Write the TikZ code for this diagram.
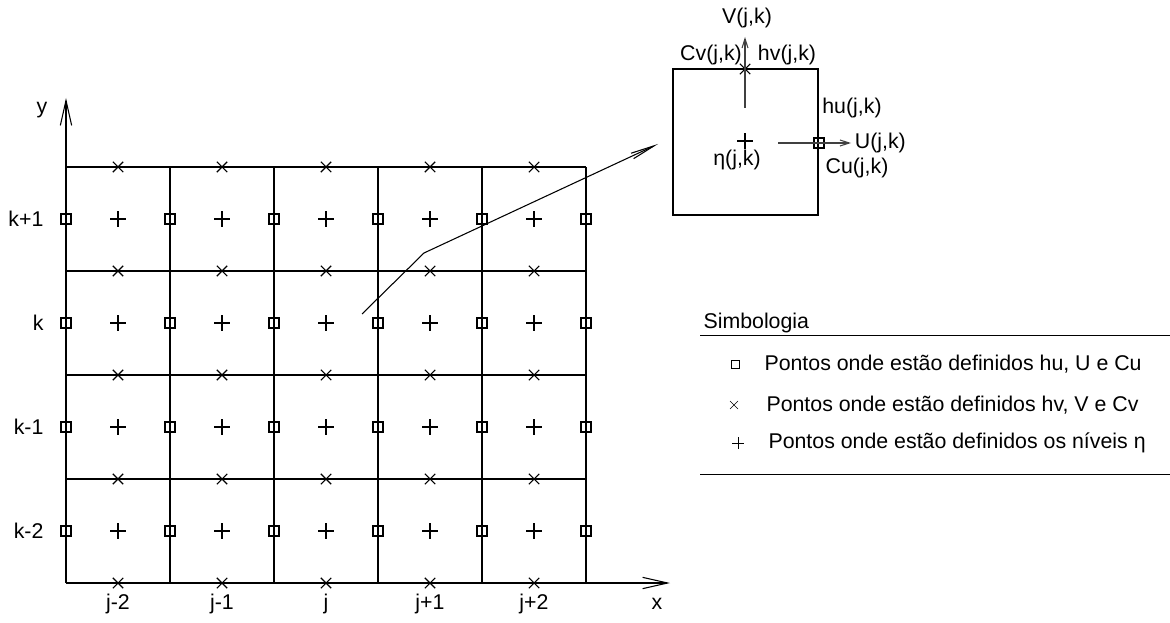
\documentclass[tikz,border=0pt]{standalone}
\usepackage{fontspec}
\setmainfont{Liberation Sans}
\usetikzlibrary{arrows.meta,positioning,shapes.misc}

\begin{document}
\begin{tikzpicture}[x=0.75pt, y=-0.75pt, line width=0.8pt,
        every node/.style={font=\fontsize{16pt}{19pt}\selectfont},
        sqmark/.style={draw, rectangle, minimum size=7.5pt, inner sep=0pt},
        xmark/.style={draw, cross out, minimum size=7pt, inner sep=0pt},
        pmark/.style={draw, cross out, rotate=45, minimum size=7.5pt, inner sep=0pt},
        axis/.style={-{Straight Barb[length=18.75pt, width=8.5pt]}},
        flux/.style={-{Straight Barb[length=7pt, width=4.5pt]}, black!75},
        zoomline/.style={-{Straight Barb[length=18pt, width=4.5pt]}}
    ]
    \useasboundingbox (0,0) rectangle (1170,623);
    % grid of cells
    \foreach \i in {0,...,5}
        \draw (66+104*\i,167) -- (66+104*\i,583);
    \foreach \r in {0,...,4}
        \draw (66,167+104*\r) -- (586,167+104*\r);
    % axes
    \coordinate (origin) at (66,583);
    \coordinate (ytip) at (66,98);
    \coordinate (xtip) at (670,583);
    \draw[axis] (origin) -- (ytip);
    \draw[axis] (origin) -- (xtip);
    \node (ylab) at (42,110) {y};
    \node (xlab) at (657,604) {x};
    % points of the grid
    \foreach \r in {0,...,3} {
        \foreach \i in {0,...,5}
            \node[sqmark] (u\i\r) at (66+104*\i,219+104*\r) {};
        \foreach \c in {0,...,4}
            \node[pmark] (e\c\r) at (118+104*\c,219+104*\r) {};
    }
    \foreach \r in {0,...,4}
        \foreach \c in {0,...,4}
            \node[xmark] (v\c\r) at (118+104*\c,167+104*\r) {};
    % indices
    \foreach \lab [count=\c from 0] in {j-2,j-1,j,j+1,j+2}
        \node (jlab\c) at (118+104*\c,604) {\lab};
    \foreach \lab [count=\r from 0] in {k+1,k,k-1,k-2}
        \node[anchor=east, inner sep=0pt] (klab\r) at (44,219+104*\r) {\lab};
    % zoom on one cell
    \coordinate (zoomstart) at (362,314);
    \coordinate (zoombend) at (424,253);
    \coordinate (zoomend) at (658,144);
    \draw[zoomline] (zoomstart) -- (zoombend) -- (zoomend);
    \node[draw, rectangle, minimum width=108.75pt, minimum height=109.5pt, inner sep=0pt] (cell) at (745.5,142) {};
    \node[pmark] (eta) at (745,141) {};
    \node (etalab) at (737,160) {η(j,k)};
    \node[xmark] (vpt) at (745,69) {};
    \node[sqmark] (upt) at (819,143) {};
    \coordinate (vstart) at (745,108);
    \coordinate (vend) at (745,37);
    \coordinate (ustart) at (778,143);
    \coordinate (uend) at (851,143);
    \draw[flux] (vstart) -- (vend);
    \draw[flux] (ustart) -- (uend);
    \node (Vlab) at (747,18) {V(j,k)};
    \node (Cvlab) at (711,55) {Cv(j,k)};
    \node (hvlab) at (787,55) {hv(j,k)};
    \node (hulab) at (852,108) {hu(j,k)};
    \node[anchor=west, inner sep=1pt] (Ulab) at (853,143) {U(j,k)};
    \node (Culab) at (857,168) {Cu(j,k)};
    % legend
    \node[anchor=west, inner sep=0pt] (legtitle) at (703,323) {Simbologia};
    \coordinate (legtopl) at (700,335);
    \coordinate (legtopr) at (1170,335);
    \coordinate (legbotl) at (700,474);
    \coordinate (legbotr) at (1170,474);
    \draw[line width=0.6pt] (legtopl) -- (legtopr);
    \draw[line width=0.6pt] (legbotl) -- (legbotr);
    \node[sqmark, minimum size=6pt, line width=0.5pt] (legsq) at (735,364) {};
    \node[xmark, minimum size=5.5pt, line width=0.5pt] (legx) at (734,405) {};
    \node[pmark, minimum size=5.5pt, line width=0.5pt] (legp) at (738,443) {};
    \node[anchor=west, inner sep=0pt] (legsqtext) at (764,364) {Pontos onde estão definidos hu, U e Cu};
    \node[anchor=west, inner sep=0pt] (legxtext) at (766,405) {Pontos onde estão definidos hv, V e Cv};
    \node[anchor=west, inner sep=0pt] (legptext) at (768,443) {Pontos onde estão definidos os níveis η};
\end{tikzpicture}
\end{document}
